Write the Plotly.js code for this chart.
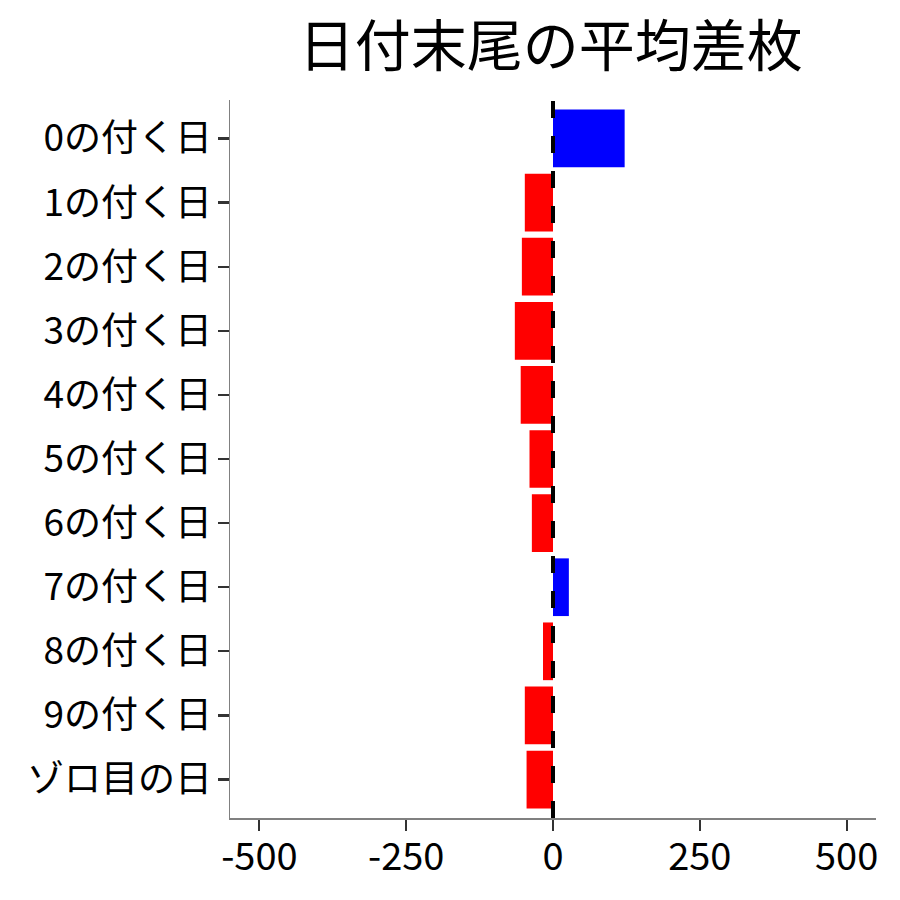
<!DOCTYPE html>
<html><head><meta charset="utf-8">
<script src="https://cdn.plot.ly/plotly-3.0.1.min.js"></script>
<style>body{margin:0;background:#fff}#chart{width:900px;height:900px}</style>
</head><body><div id="chart"></div>
<script>
const categories = ["0の付く日","1の付く日","2の付く日","3の付く日","4の付く日","5の付く日","6の付く日","7の付く日","8の付く日","9の付く日","ゾロ目の日"];
const values = [122, -48, -53, -65, -55, -40, -36, 27, -17, -48, -45];
const xTicks = [-500, -250, 0, 250, 500];
const titleText = "日付末尾の平均差枚";
const font = "Noto Sans CJK JP";

const colors = values.map(v => v >= 0 ? "#0000FF" : "#FF0000");
const trace = {
  type: "bar", orientation: "h",
  x: values, y: categories,
  width: 0.9,
  marker: {color: colors, line: {width: 0}},
  hoverinfo: "x+y"
};
const layout = {
  width: 900, height: 900,
  margin: {l: 230, r: 24, t: 100, b: 82},
  paper_bgcolor: "#fff", plot_bgcolor: "#fff",
  showlegend: false,
  font: {family: font, color: "#000"},
  title: {text: titleText, font: {family: font, size: 56, color: "#000"}, x: 0.612, xanchor: "center", y: 0.948, yanchor: "middle"},
  xaxis: {
    range: [-550, 550], tickvals: xTicks, ticktext: xTicks.map(String),
    showgrid: false, zeroline: false,
    showline: true, linecolor: "#808080", linewidth: 1.5,
    ticks: "outside", ticklen: 11, tickwidth: 2.2, tickcolor: "#333",
    ticklabelstandoff: -6,
    tickfont: {family: font, size: 38, color: "#000"}
  },
  yaxis: {
    type: "category", range: [10.6, -0.6],
    showgrid: false, zeroline: false,
    showline: true, linecolor: "#808080", linewidth: 1.5,
    ticks: "outside", ticklen: 11, tickwidth: 2.2, tickcolor: "#333",
    ticklabelstandoff: -2,
    tickfont: {family: font, size: 37, color: "#000"}
  },
  shapes: [{
    type: "line", xref: "x", yref: "paper", x0: 0, x1: 0, y0: 0, y1: 1,
    layer: "above", line: {color: "#000", width: 4, dash: "17px,18px"}
  }]
};
Plotly.newPlot("chart", [trace], layout, {displayModeBar: false, staticPlot: true});
</script></body></html>
